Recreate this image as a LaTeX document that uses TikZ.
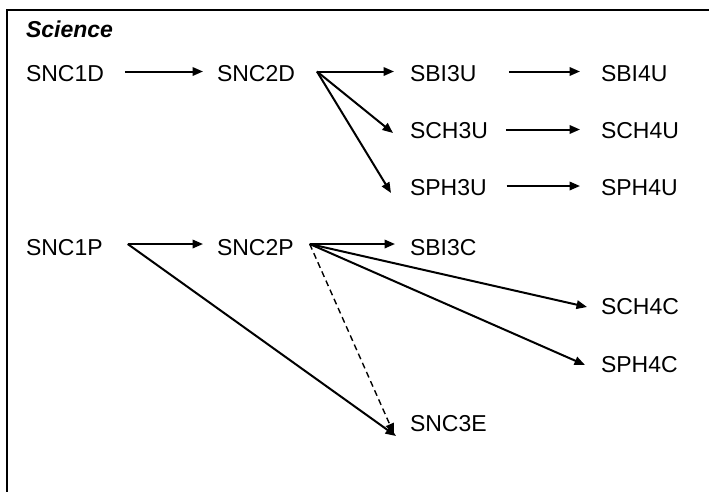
\documentclass[tikz,border=0pt]{standalone}
\usepackage{fontspec}
\setmainfont{Liberation Sans}
\usetikzlibrary{arrows.meta}
\tikzset{
  course/.style={anchor=west, inner sep=0pt, outer sep=0pt, font=\fontsize{23}{26}\selectfont},
  title/.style={anchor=west, inner sep=0pt, outer sep=0pt, font=\fontsize{23}{26}\selectfont\bfseries\itshape},
  arr/.style={line width=2pt, -{Triangle[length=10.5pt,width=8.5pt]}},
  darr/.style={line width=1.4pt, dash pattern=on 6pt off 4pt, -{Triangle[length=10.5pt,width=8.5pt]}},
  frame/.style={line width=2pt}
}
\begin{document}
\begin{tikzpicture}[x=1pt,y=-1pt]
\useasboundingbox (0,0) rectangle (709,491);
\fill[white] (0,0) rectangle (709,491);
\draw[frame] (7,492) |- (710,10);

\node[title] (sci) at (26,29.5) {Science};

\node[course] (SNC1D) at (26,74) {SNC1D};
\node[course] (SNC2D) at (217,74) {SNC2D};
\node[course] (SBI3U) at (410,74) {SBI3U};
\node[course] (SBI4U) at (601,74) {SBI4U};
\node[course] (SCH3U) at (410,131) {SCH3U};
\node[course] (SCH4U) at (601,131) {SCH4U};
\node[course] (SPH3U) at (410,188) {SPH3U};
\node[course] (SPH4U) at (601,188) {SPH4U};

\node[course] (SNC1P) at (26,248) {SNC1P};
\node[course] (SNC2P) at (217,248) {SNC2P};
\node[course] (SBI3C) at (410,248) {SBI3C};
\node[course] (SCH4C) at (601,307) {SCH4C};
\node[course] (SPH4C) at (601,365) {SPH4C};
\node[course] (SNC3E) at (410,424) {SNC3E};

% academic stream
\draw[arr] ([shift={(21,-2.5)}]SNC1D.east) -- ([shift={(-14,-2.5)}]SNC2D.west);
\coordinate (dout) at ([shift={(22,-2.5)}]SNC2D.east);
\draw[arr] (dout) -- ([shift={(-16,-2.5)}]SBI3U.west);
\draw[arr] (dout) -- ([shift={(-17,2)}]SCH3U.west);
\draw[arr] (dout) -- ([shift={(-19,5)}]SPH3U.west);
\draw[arr] ([shift={(32.5,-2.5)}]SBI3U.east) -- ([shift={(-21,-2.5)}]SBI4U.west);
\draw[arr] ([shift={(18,-1.5)}]SCH3U.east) -- ([shift={(-21,-1.5)}]SCH4U.west);
\draw[arr] ([shift={(20,-2)}]SPH3U.east) -- ([shift={(-21,-2)}]SPH4U.west);

% applied stream
\coordinate (pout1) at ([shift={(25,-4)}]SNC1P.east);
\draw[arr] (pout1) -- ([shift={(-14,-4)}]SNC2P.west);
\draw[arr] (pout1) -- ([shift={(-14,12)}]SNC3E.west);
\coordinate (pout2) at ([shift={(16,-4)}]SNC2P.east);
\draw[arr] (pout2) -- ([shift={(-15,-4)}]SBI3C.west);
\draw[arr] (pout2) -- ([shift={(-14,0)}]SCH4C.west);
\draw[arr] (pout2) -- ([shift={(-16,0)}]SPH4C.west);
\draw[darr] (pout2) -- ([shift={(-16,10)}]SNC3E.west);
\end{tikzpicture}
\end{document}
